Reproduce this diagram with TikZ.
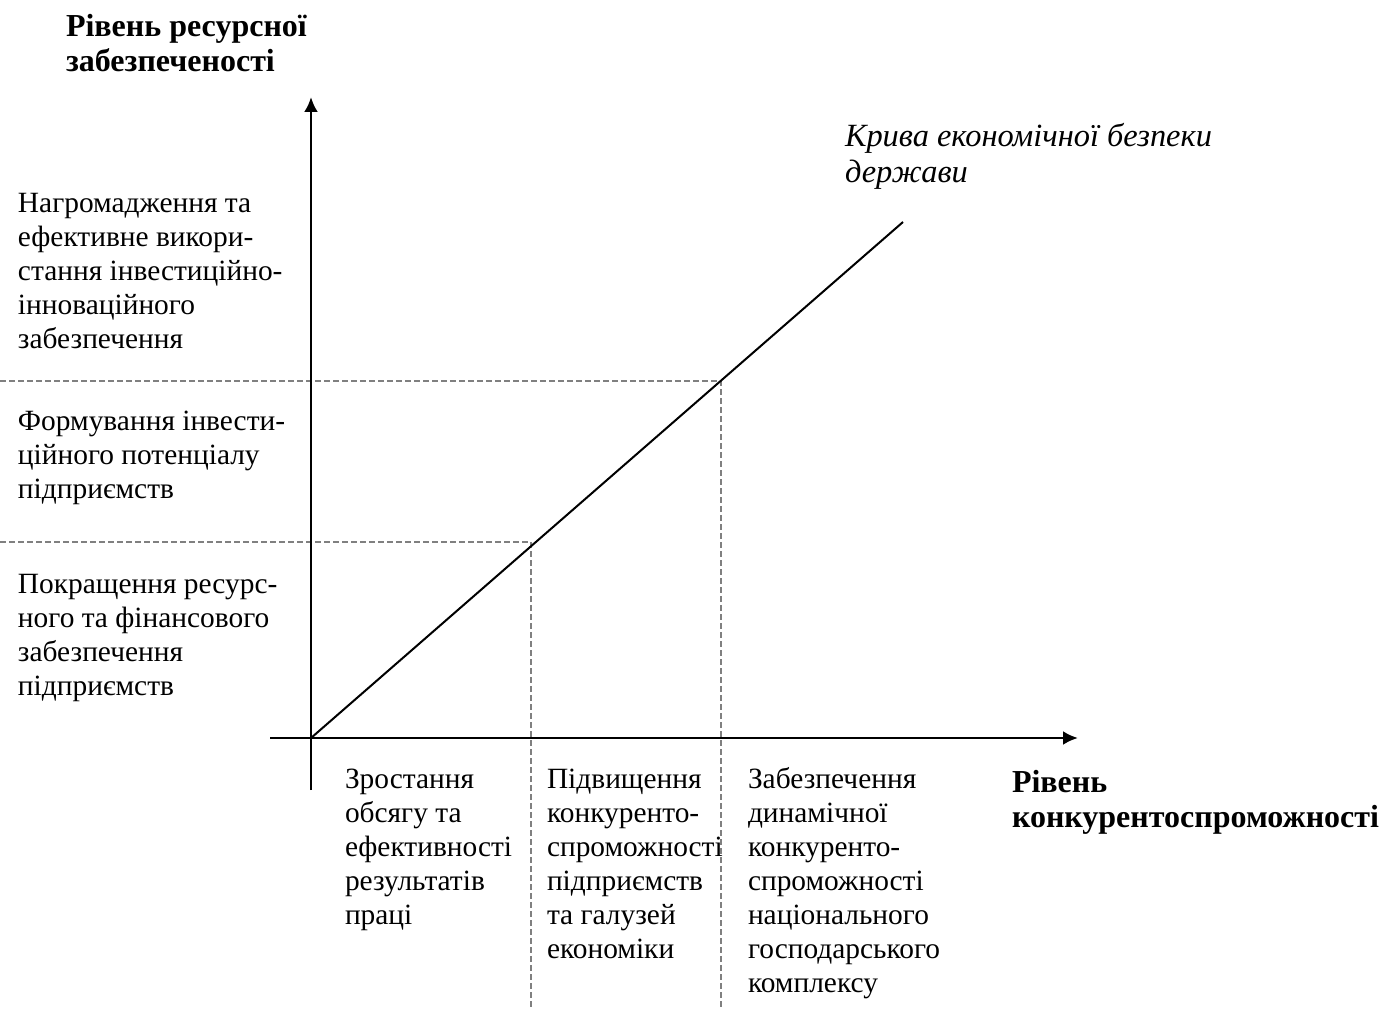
\documentclass[tikz,border=0pt]{standalone}
\usepackage{fontspec}
\setmainfont{Liberation Serif}
\usetikzlibrary{arrows.meta}
\newcommand\mystrut{\rule{0pt}{12pt}}
\begin{document}
\begin{tikzpicture}[x=0.5pt,y=-0.5pt,
  txt/.style={anchor=north west, inner sep=0pt, outer sep=0pt, align=left, font=\fontsize{14.7pt}{17pt}\selectfont},
  btxt/.style={txt, font=\fontsize{16pt}{17.5pt}\selectfont\bfseries},
  itxt/.style={txt, font=\fontsize{16.2pt}{18pt}\selectfont\itshape},
  axis/.style={line width=1.4pt, -{Latex[length=7.5pt,width=7pt]}},
  curve/.style={line width=1pt},
  guide/.style={line width=0.6pt, gray, dash pattern=on 3pt off 1.5pt}]
\useasboundingbox (0,0) rectangle (1396,1010);
% coordinates
\coordinate (O) at (311,738);
\coordinate (ybot) at (311,790);
\coordinate (ytop) at (311,97);
\coordinate (xleft) at (270,738);
\coordinate (xright) at (1078,738);
\coordinate (cend) at (903,222);
\coordinate (h1l) at (0,381);
\coordinate (h1r) at (721,381);
\coordinate (v1b) at (721,1008);
\coordinate (h2l) at (0,542);
\coordinate (h2r) at (531,542);
\coordinate (v2b) at (531,1008);
% guides
\draw[guide] (h1l) -- (h1r) -- (v1b);
\draw[guide] (h2l) -- (h2r) -- (v2b);
% axes
\draw[axis] (ybot) -- (ytop);
\draw[axis] (xleft) -- (xright);
\draw[curve] (O) -- (cend);
% texts
\node[btxt] (ytitle) at (66,13) {\mystrut Рівень ресурсної\\забезпеченості};
\node[btxt] (xtitle) at (1012,768) {\mystrut Рівень\\конкурентоспроможності};
\node[itxt] (curvelabel) at (845,123) {\mystrut Крива економічної безпеки\\держави};
\node[txt] (l1) at (18,189) {\mystrut Нагромадження та\\ефективне викори-\\стання інвестиційно-\\інноваційного\\забезпечення};
\node[txt] (l2) at (18,406) {\mystrut Формування інвести-\\ційного потенціалу\\підприємств};
\node[txt] (l3) at (18,569) {\mystrut Покращення ресурс-\\ного та фінансового\\забезпечення\\підприємств};
\node[txt] (b1) at (345,764) {\mystrut Зростання\\обсягу та\\ефективності\\результатів\\праці};
\node[txt] (b2) at (547,764) {\mystrut Підвищення\\конкуренто-\\спроможності\\підприємств\\та галузей\\економіки};
\node[txt] (b3) at (748,764) {\mystrut Забезпечення\\динамічної\\конкуренто-\\спроможності\\національного\\господарського\\комплексу};
\end{tikzpicture}
\end{document}
